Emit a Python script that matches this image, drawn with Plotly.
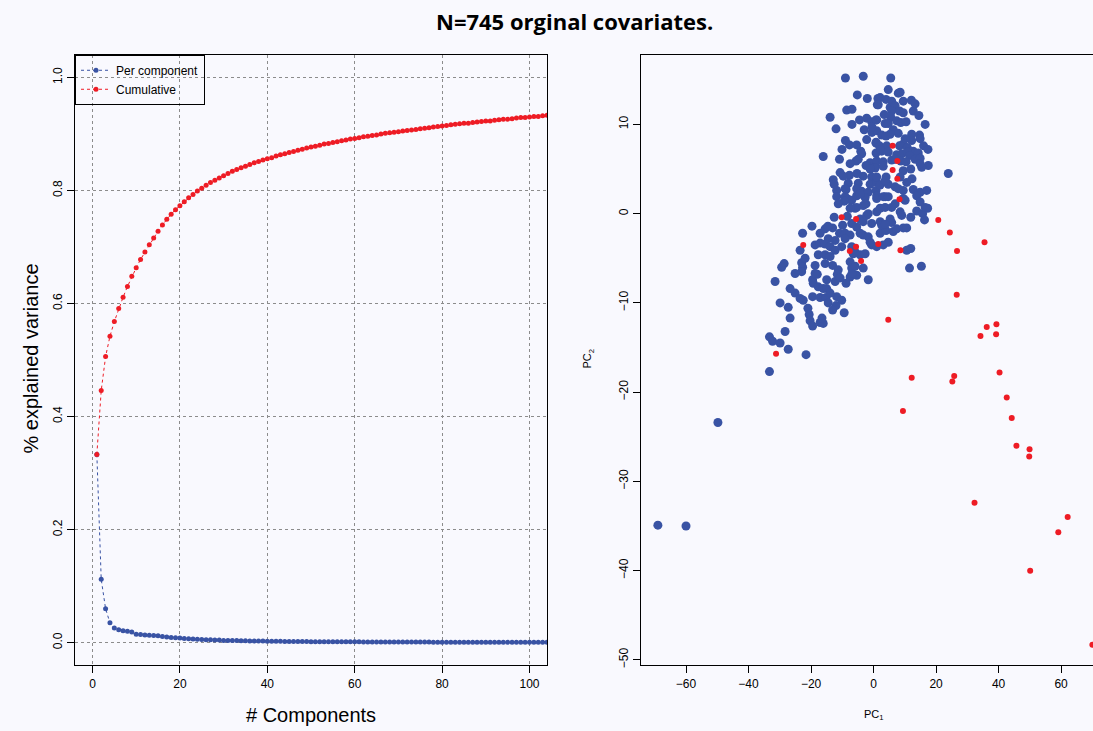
import plotly.graph_objects as go

# ---------------- data ----------------
components = list(range(1, 105))

per_component = [
    0.333, 0.112, 0.060, 0.035, 0.026, 0.023, 0.021, 0.020, 0.019, 0.015,
    0.0145, 0.0134, 0.0130, 0.0125, 0.0120, 0.0110, 0.0100, 0.0090, 0.0085, 0.0080,
    0.0075, 0.0070, 0.0065, 0.0060, 0.0055, 0.0050, 0.0050, 0.0045, 0.0045, 0.0040,
    0.0040, 0.0038, 0.0036, 0.0034, 0.0032, 0.0030, 0.0030, 0.0028, 0.0027, 0.0026,
    0.0025, 0.0024, 0.0023, 0.0022, 0.0021, 0.0020, 0.0020, 0.0019, 0.0019, 0.0018,
    0.0018, 0.0017, 0.0017, 0.0016, 0.0016, 0.0015, 0.0015, 0.0015, 0.0014, 0.0014,
    0.0014, 0.0013, 0.0013, 0.0013, 0.0012, 0.0012, 0.0012, 0.0012, 0.0011, 0.0011,
    0.0011, 0.0011, 0.0010, 0.0010, 0.0010, 0.0010, 0.0010, 0.0009, 0.0009, 0.0009,
    0.0009, 0.0009, 0.0009, 0.0008, 0.0008, 0.0008, 0.0008, 0.0008, 0.0008, 0.0008,
    0.0007, 0.0007, 0.0007, 0.0007, 0.0007, 0.0007, 0.0007, 0.0007, 0.0007, 0.0007,
    0.0007, 0.0007, 0.0007, 0.0007,
]

cumulative = [
    0.333, 0.446, 0.506, 0.542, 0.568, 0.591, 0.611, 0.630, 0.648, 0.663,
    0.678, 0.691, 0.704, 0.716, 0.728, 0.739, 0.749, 0.758, 0.766, 0.773,
    0.780, 0.787, 0.793, 0.799, 0.804, 0.809, 0.814, 0.818, 0.822, 0.826,
    0.830, 0.834, 0.837, 0.840, 0.843, 0.846, 0.849, 0.851, 0.854, 0.856,
    0.858, 0.861, 0.863, 0.865, 0.867, 0.869, 0.871, 0.873, 0.875, 0.877,
    0.878, 0.880, 0.882, 0.883, 0.885, 0.886, 0.888, 0.889, 0.891, 0.892,
    0.893, 0.895, 0.896, 0.897, 0.898, 0.900, 0.901, 0.902, 0.903, 0.904,
    0.905, 0.906, 0.907, 0.908, 0.909, 0.910, 0.911, 0.912, 0.913, 0.914,
    0.915, 0.916, 0.917, 0.918, 0.919, 0.919, 0.920, 0.921, 0.922, 0.923,
    0.923, 0.924, 0.925, 0.926, 0.926, 0.927, 0.928, 0.929, 0.929, 0.930,
    0.931, 0.931, 0.932, 0.933,
]

blue_pc1 = [
    -9.0, -3.3, -5.2, -2.0, 1.4, 1.2, -13.9, -8.6, -6.9, -6.9, -4.5, -2.2, -0.6, 0.8, -3.0, -0.5,
    -9.0, -7.7, -2.2, 0.8, -5.4, -4.1, -3.8, -16.1, -10.9, -5.6, -4.9, -1.1, -2.4, 0.5, -10.7, -7.7,
    -9.7, -3.3, -0.6, -12.9, -8.1, -4.9, -1.1, 1.0, -11.8, -8.8, -5.4, -3.8, -1.7, 0.8, -11.8, -9.1,
    -8.1, -5.4, -2.7,
    5.5, 4.7, 7.9, 2.1, 4.0, 5.8, 9.5, 12.1, 1.5, 5.3, 6.9, 5.8, 8.3, 9.5, 12.7, 14.5, 5.5, 7.4, 8.7,
    10.4, 1.0, 3.7, 4.7, 6.3, 7.9, 1.0, 2.6, 4.0, 12.2, 14.7, 12.2, 14.9, 0.8, 1.9, 4.2, 8.3, 9.5,
    10.8, 16.0, 12.7, 14.3, 0.8, 2.6, 4.7, 7.4, 9.0, 10.8, 11.5, 13.3, 14.9, 1.0, 3.1, 5.8, 8.7, 10.4,
    17.5, 15.4, 23.9, 0.5, 3.1, 9.5, 11.9, 1.0, 4.0, 8.5, 10.6, 2.1, 4.7, 6.9, 9.5, 12.7, 14.9, 17.0,
    1.0, 3.7, 9.5,
    -7.0, -9.4, -5.9, -12.6, -8.4, -9.9, -7.0, -5.4, -15.5, -13.1, -22.7, -10.9, -9.1, -7.5, -14.5,
    -12.3, -18.7, -17.1, -15.5, -13.9, -12.3, -10.2, -23.5, -7.0, -5.9, -17.7, -15.5, -13.9, -28.6,
    -29.4, -23.0, -22.7, -23.0, -18.7, -13.1, -11.3, -11.6, -7.5, -7.0, -5.9, -7.5, -5.4, -18.0,
    -15.0, -19.5, -19.3, -12.3, -8.8, -31.5, -17.7, -16.1, -15.0, -25.1, -22.5, -19.5, -17.1, -15.2,
    -11.8, -10.2, -14.5, -12.0, -27.3, -13.1, -9.4, -20.6, -20.3, -19.5, -17.1, -16.1, -28.3, -33.3,
    -32.3, -27.3, -21.6, -33.3,
    11.5, 15.3, 10.6, 11.9, 17.3, 13.8, 15.7, 16.3, 8.5, 9.0, 11.9, 5.8, 6.3, 7.4, 9.5, 10.6, 2.1,
    4.0, 4.7, -0.6, 1.0, 3.1, -3.3, -1.7, -1.1, 2.1, 2.6, 1.0, 2.1, 3.7, -4.3, -3.3, -2.2, -0.6,
    -1.7, 5.3, 5.8, 3.7, -6.5, -4.3, -3.3, -5.4, -3.3, -1.7, 1.0, 3.1, 4.7, 6.9, 10.1, 13.8, 14.9,
    16.5,
    -12.0, -10.1, -7.5, -5.3, -12.6, -9.1, -4.3, -2.4, -11.3, -7.5,
    3.4, -0.5, 5.3, 2.1, 6.9, 10.1, -1.1, 3.7, 7.9, 12.3, 14.9, 17.4, 16.5, 13.3, 8.5,
    -19.7, -17.1, -14.6, -9.1, -4.3, -21.9, -18.7, -15.5, -25.1, -26.7, -23.5, -21.0, -13.9,
    -10.7, -6.9, -2.7, -29.9, -26.7, -16.5, -29.9,
    -49.8, -69.0, -60.0,
]

blue_pc2 = [
    15.2, 15.4, 13.3, 12.9, 12.9, 12.2, 10.8, 11.6, 11.7, 10.0, 10.5, 10.7, 10.3, 10.5, 9.4, 9.1,
    8.2, 7.7, 8.3, 7.9, 7.7, 7.0, 6.7, 6.4, 6.1, 5.9, 6.1, 5.7, 5.4, 5.2, 4.6, 4.3,
    4.2, 4.2, 4.1, 3.8, 3.4, 3.4, 3.3, 3.5, 2.6, 2.7, 2.8, 2.5, 2.4, 2.6, 1.9, 1.9,
    1.6, 2.0, 1.8,
    15.2, 13.9, 13.5, 13.0, 12.8, 12.6, 12.6, 12.7, 12.2, 11.9, 12.1, 11.5, 11.5, 11.3, 11.5, 11.0,
    10.8, 10.4, 10.2, 10.3, 10.5, 10.1, 10.1, 9.4, 9.0, 9.3, 8.8, 8.7, 8.9, 8.8, 8.2, 8.4, 8.0, 7.6,
    7.6, 7.6, 7.8, 7.4, 7.6, 7.0, 6.8, 6.8, 7.0, 6.9, 6.6, 6.7, 6.9, 6.5, 6.1, 6.2, 5.9, 5.8, 6.0,
    5.9, 5.8, 5.4, 5.2, 4.5, 5.1, 5.3, 4.8, 5.0, 4.1, 4.1, 4.1, 3.5, 3.2, 3.3, 3.0, 2.6, 2.7, 2.4,
    2.6, 2.0, 1.9, 1.7,
    1.5, 1.4, 0.6, -0.4, -0.3, -1.3, -1.1, -1.5, -1.7, -1.6, -2.2, -2.2, -2.2, -2.4, -2.8,
    -3.0, -3.5, -3.3, -3.4, -3.7, -4.1, -3.7, -4.1, -3.7, -4.3, -4.6, -4.6, -4.8, -5.6,
    -6.0, -5.5, -6.0, -6.5, -5.8, -5.8, -6.3, -6.8, -5.4, -6.1, -5.9, -7.1, -6.9, -6.8,
    -7.4, -7.4, -7.8, -7.6, -7.8, -7.6, -8.2, -8.4, -8.4, -8.9, -9.7, -9.3, -9.4, -9.4,
    -9.3, -9.7, -10.0, -10.3, -10.5, -10.8, -11.1, -11.3, -12.0, -12.6, -12.2, -12.3, -13.2, -13.8,
    -14.3, -15.2, -15.8, -17.7,
    -6.1, -5.9, -4.1, -3.9, 0.6, 0.3, 0.0, -0.7, 0.2, -0.2, -0.4, -1.0, -2.0, -1.7, -1.6, -1.6, -2.2,
    -1.9, -3.2, -3.5, -3.7, -3.5, -2.4, -2.6, -3.2, -0.9, -1.3, 0.2, 0.6, 0.7, -0.6, -0.9, -0.2, -1.1,
    -7.4, -0.6, 0.7, -1.2, -4.5, -4.6, -6.1, 0.7, 0.9, 0.0, 1.7, 1.9, 1.9, 1.1, 1.5, 2.0, 1.3,
    0.7,
    9.5, 7.2, 5.6, 4.5, 3.3, 2.8, 2.2, 1.1, 1.1, 0.6,
    11.1, 9.7, 8.9, 7.2, 6.1, 8.4, 5.0, 3.7, 2.8, 3.9, 5.6, 7.2, 10.0, 12.3, 13.6,
    -1.4, -2.2, -1.4, -2.8, -2.2, -5.0, -6.7, -5.6, -6.7, -8.4, -9.5, -10.6, -8.9,
    -7.2, -6.7, -4.5, -10.0, -11.7, -11.7, -14.5,
    -23.4, -34.9, -35.0,
]

red_pc1 = [
    6.1, 7.6, 6.1, 7.6, 8.3, -10.2, -5.6, -22.5, -7.6, -5.6, -4.0, 1.5, 8.6, 20.7, 24.4, 26.7,
    35.5, 26.6, 4.7, -31.2, 36.2, 39.3, 34.2, 39.2, 12.2, 25.8, 25.2, 40.3, 42.6, 9.4, 44.2, 45.7,
    49.9, 49.8, 32.3, 62.1, 59.1, 50.1, 70.0,
]
red_pc2 = [
    7.6, 5.9, 4.9, 3.9, 1.6, -0.4, -0.6, -3.5, -4.2, -3.7, -5.3, -3.4, -4.1, -0.7, -2.1, -4.2,
    -3.2, -9.1, -11.9, -15.7, -12.7, -12.4, -13.7, -13.5, -18.4, -18.2, -18.8, -17.8, -20.6, -22.1,
    -22.9, -26.0, -26.4, -27.2, -32.4, -34.0, -35.7, -40.0, -48.3,
]

left_xticks = [0, 20, 40, 60, 80, 100]
left_yticks = [0.0, 0.2, 0.4, 0.6, 0.8, 1.0]
right_xticks = [-60, -40, -20, 0, 20, 40, 60]
right_yticks = [-50, -40, -30, -20, -10, 0, 10]

# ---------------- styling ----------------
BLUE = "#3953a4"
RED = "#ee1c25"
BG = "#f9f9fe"
FONT = "Liberation Sans, Arial, Helvetica, sans-serif"
W, H = 1093, 731

fig = go.Figure()

fig.add_trace(go.Scatter(
    x=components, y=per_component, mode="lines+markers", name="Per component",
    line=dict(color=BLUE, width=1, dash="dot"), marker=dict(color=BLUE, size=5),
    xaxis="x", yaxis="y", cliponaxis=True,
))
fig.add_trace(go.Scatter(
    x=components, y=cumulative, mode="lines+markers", name="Cumulative",
    line=dict(color=RED, width=1, dash="dot"), marker=dict(color=RED, size=5),
    xaxis="x", yaxis="y", cliponaxis=True,
))
fig.add_trace(go.Scatter(
    x=blue_pc1, y=blue_pc2, mode="markers", showlegend=False,
    marker=dict(color=BLUE, size=9), xaxis="x2", yaxis="y2",
))
fig.add_trace(go.Scatter(
    x=red_pc1, y=red_pc2, mode="markers", showlegend=False,
    marker=dict(color=RED, size=6), xaxis="x2", yaxis="y2",
))

ydom = [1 - 668 / H, 1 - 55 / H]
axis_common = dict(
    showline=True, linecolor="black", linewidth=1, ticks="outside", ticklen=7,
    tickcolor="black", tickwidth=1, zeroline=False,
    tickfont=dict(family=FONT, size=12, color="black"),
)

fig.update_layout(
    width=W, height=H,
    margin=dict(l=0, r=0, t=0, b=0),
    paper_bgcolor=BG, plot_bgcolor=BG,
    font=dict(family=FONT, color="black"),
    xaxis=dict(domain=[75 / W, 547 / W], range=[-4, 104], tickvals=left_xticks,
               mirror=True, showgrid=True, gridcolor="#8c8c8c", griddash="dot", gridwidth=1,
               anchor="y", **axis_common),
    yaxis=dict(domain=ydom, range=[-0.04, 1.04], tickvals=left_yticks, tickformat=".1f",
               tickangle=-90, mirror=True, showgrid=True, gridcolor="#8c8c8c", griddash="dot",
               gridwidth=1, anchor="x", **axis_common),
    xaxis2=dict(domain=[641 / W, 1.0], range=[-74.4, 70.2], tickvals=right_xticks,
                mirror=True, showgrid=False, anchor="y2", **axis_common),
    yaxis2=dict(domain=ydom, range=[-50.6, 17.8], tickvals=right_yticks,
                tickangle=-90, mirror=False, showgrid=False, anchor="x2", **axis_common),
    legend=dict(x=75 / W, y=ydom[1], xanchor="left", yanchor="top",
                bgcolor="rgba(0,0,0,0)", bordercolor="black", borderwidth=1,
                font=dict(family=FONT, size=12, color="black"),
                tracegroupgap=0, itemwidth=30),
    showlegend=True,
)

def label(text, px, py, size, angle=0, family=FONT):
    fig.add_annotation(text=text, x=px / W, y=1 - py / H, xref="paper", yref="paper",
                       xanchor="center", yanchor="middle", showarrow=False,
                       textangle=angle, font=dict(family=family, size=size, color="black"))

label("<b>N=745 orginal covariates.</b>", 574, 21, 22, family="Open Sans, sans-serif")
label("% explained variance", 31, 360, 20, angle=-90)
label("# Components", 311, 718, 20)
label("PC<sub>1</sub>", 874, 718, 11)
label("PC<sub>2</sub>", 588, 360, 11, angle=-90)

fig.write_html(
    "out.html",
    config={"displayModeBar": False},
    post_script="document.body.style.margin='0px';document.body.style.overflow='hidden';",
)
